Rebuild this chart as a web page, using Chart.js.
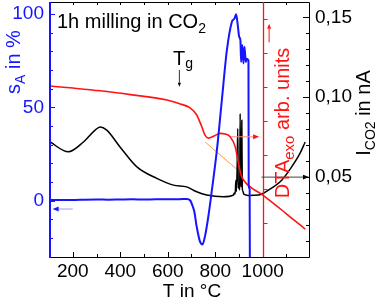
<!DOCTYPE html>
<html>
<head>
<meta charset="utf-8">
<script src="https://cdn.jsdelivr.net/npm/chart.js@4"></script>
<style>
  html, body { margin: 0; padding: 0; background: #fff; }
</style>
</head>
<body>
<canvas id="c" width="379" height="302"></canvas>
<script>
// sA (left axis, %)
const tempSA = [104, 150, 200, 250, 300, 350, 400, 450, 500, 550, 600, 650, 680, 694, 705, 712, 722, 736, 746, 757, 771, 786, 807, 828, 849, 870, 881, 888, 895, 901, 906, 909, 914, 919, 923, 929, 933, 940, 941, 945, 946]
const sA = [0.3, 0.4, 0.3, 0.5, 0.6, 0.5, 0.6, 0.7, 0.6, 0.7, 0.7, 0.8, 0.9, 0.2, -3, -6, -14, -22, -23.5, -19, -8.5, 5.7, 27, 54, 80.5, 95.7, 97.5, 99.8, 94, 87.7, 86, 74.3, 83.3, 73.5, 82.4, 74.3, 76, 75, 8, 6, -40]

// DTA (arbitrary units, hidden axis)
const tempDTA = [104, 200, 315, 450, 597, 650, 694, 722, 743, 757, 771, 795, 820, 842, 863, 884, 898, 909, 919, 1000, 1080, 1115, 1179]
const dta = [5.02, 4.96, 4.88, 4.76, 4.61, 4.5, 4.38, 4.17, 3.83, 3.58, 3.49, 3.55, 3.63, 3.61, 3.53, 3.24, 2.75, 2.41, 2.26, 1.82, 1.38, 1.18, 0.82]
const tempTangent = [757, 909]
const tangent = [3.38, 2.47]

// ion current CO2 (right axis, nA)
const tempCO2 = [104, 181, 245, 294, 315, 343, 399, 470, 554, 624, 680, 722, 764, 834, 877, 880, 884, 887, 889, 892, 895, 897, 900, 903, 905, 907, 909, 912, 914, 917, 920, 925, 939, 982, 1024, 1080, 1122, 1157, 1179]
const ico2 = [0.072, 0.0658, 0.072, 0.0794, 0.0814, 0.0794, 0.0689, 0.0564, 0.0492, 0.045, 0.0439, 0.0408, 0.0388, 0.0377, 0.0388, 0.04, 0.0395, 0.048, 0.041, 0.053, 0.0804, 0.043, 0.046, 0.042, 0.0898, 0.044, 0.045, 0.0856, 0.043, 0.041, 0.0395, 0.039, 0.0385, 0.0388, 0.0419, 0.0481, 0.0564, 0.0648, 0.072]

const xTicks = [200, 400, 600, 800, 1000]
const leftTicks = [0, 50, 100]
const rightTicks = [0.05, 0.1, 0.15]

const FONT = "'Liberation Sans', Arial, sans-serif"
const BLUE = "#1515ff"
const RED = "#ff1414"

const pts = (xs, ys) => xs.map((x, i) => ({ x, y: ys[i] }))

function richText(ctx, parts, x, y, angle, color, align) {
    ctx.save()
    ctx.translate(x, y)
    ctx.rotate(angle)
    ctx.fillStyle = color
    ctx.textBaseline = "alphabetic"
    let total = 0
    parts.forEach((p) => {
        ctx.font = p.size + "px " + FONT
        p.w = ctx.measureText(p.t).width
        total += p.w
    })
    let cx = align === "left" ? 0 : -total / 2
    parts.forEach((p) => {
        ctx.font = p.size + "px " + FONT
        ctx.fillText(p.t, cx, p.dy || 0)
        cx += p.w
    })
    ctx.restore()
}

function arrow(ctx, x1, y1, x2, y2, lineColor, headColor, head) {
    const a = Math.atan2(y2 - y1, x2 - x1)
    ctx.save()
    ctx.strokeStyle = lineColor
    ctx.lineWidth = 1
    ctx.beginPath()
    ctx.moveTo(x1, y1)
    ctx.lineTo(x2 - Math.cos(a) * head, y2 - Math.sin(a) * head)
    ctx.stroke()
    ctx.fillStyle = headColor
    ctx.beginPath()
    ctx.moveTo(x2, y2)
    ctx.lineTo(x2 - Math.cos(a) * head + Math.sin(a) * head * 0.4, y2 - Math.sin(a) * head - Math.cos(a) * head * 0.4)
    ctx.lineTo(x2 - Math.cos(a) * head - Math.sin(a) * head * 0.4, y2 - Math.sin(a) * head + Math.cos(a) * head * 0.4)
    ctx.closePath()
    ctx.fill()
    ctx.restore()
}

const framePlugin = {
    id: "frame",
    afterDatasetsDraw(chart) {
        const { ctx, chartArea: a, scales } = chart
        const { x, y, y1, yDTA } = scales
        ctx.save()
        // plot frame
        ctx.strokeStyle = "#000"
        ctx.lineWidth = 1
        ctx.beginPath()
        ctx.moveTo(a.left, a.top + 0.5)
        ctx.lineTo(a.right + 0.5, a.top + 0.5)
        ctx.lineTo(a.right + 0.5, a.bottom + 0.5)
        ctx.lineTo(a.left, a.bottom + 0.5)
        ctx.stroke()

        // x ticks bottom and top
        ctx.beginPath()
        for (let t = 200; t <= 1100; t += 100) {
            const px = Math.round(x.getPixelForValue(t)) + 0.5
            const len = t % 200 === 0 ? 5 : 3
            ctx.moveTo(px, a.bottom)
            ctx.lineTo(px, a.bottom - len)
            ctx.moveTo(px, a.top)
            ctx.lineTo(px, a.top + 3)
        }
        // right axis ticks
        for (let k = 1; k <= 15; k++) {
            const v = k / 100
            const py = Math.round(y1.getPixelForValue(v)) + 0.5
            const len = k % 5 === 0 ? 6 : 3
            ctx.moveTo(a.right, py)
            ctx.lineTo(a.right - len, py)
        }
        ctx.stroke()

        // left axis (blue)
        ctx.strokeStyle = BLUE
        ctx.lineWidth = 2
        ctx.beginPath()
        ctx.moveTo(a.left, a.top)
        ctx.lineTo(a.left, a.bottom + 1)
        ctx.stroke()
        ctx.lineWidth = 1
        ctx.beginPath()
        for (let v = -20; v <= 100; v += 10) {
            const py = Math.round(y.getPixelForValue(v)) + 0.5
            const len = v % 50 === 0 ? 5 : 3
            ctx.moveTo(a.left, py)
            ctx.lineTo(a.left + len, py)
        }
        ctx.stroke()

        // DTA axis (red) at T = 1000
        const rx = Math.round(x.getPixelForValue(1000)) + 0.5
        ctx.strokeStyle = RED
        ctx.lineWidth = 1.3
        ctx.beginPath()
        ctx.moveTo(rx, a.top)
        ctx.lineTo(rx, a.bottom)
        ctx.stroke()
        ctx.lineWidth = 1
        ctx.beginPath()
        for (let k = 1; k <= 7; k++) {
            const py = Math.round(yDTA.getPixelForValue(k)) + 0.5
            ctx.moveTo(rx, py)
            ctx.lineTo(rx + 4, py)
        }
        ctx.stroke()

        // axis-assignment arrows
        arrow(ctx, x.getPixelForValue(200), y.getPixelForValue(-4.5), x.getPixelForValue(115), y.getPixelForValue(-4.5), "#9a9aff", BLUE, 6)
        arrow(ctx, x.getPixelForValue(868), yDTA.getPixelForValue(3.53), x.getPixelForValue(985), yDTA.getPixelForValue(3.53), "#ff8a8a", RED, 6)
        arrow(ctx, x.getPixelForValue(1027), yDTA.getPixelForValue(6.3), x.getPixelForValue(1027), yDTA.getPixelForValue(6.85), RED, RED, 5)
        arrow(ctx, x.getPixelForValue(995), y1.getPixelForValue(0.05), x.getPixelForValue(1195), y1.getPixelForValue(0.05), "#444", "#000", 6)
        // Tg marker
        arrow(ctx, x.getPixelForValue(649), y.getPixelForValue(70), x.getPixelForValue(649), y.getPixelForValue(61), "#333", "#000", 4)
        ctx.restore()

        // texts
        richText(ctx, [{ t: "1h milling in CO", size: 20 }, { t: "2", size: 14, dy: 5 }], a.left + 7, 28, 0, "#000", "left")
        richText(ctx, [{ t: "T", size: 20 }, { t: "g", size: 14, dy: 3 }], 173, 65, 0, "#000", "left")
        richText(ctx, [{ t: "s", size: 20 }, { t: "A", size: 14, dy: 5 }, { t: " in %", size: 20 }], 20, 62, -Math.PI / 2, BLUE)
        richText(ctx, [{ t: "I", size: 20 }, { t: "CO2", size: 14, dy: 5 }, { t: " in nA", size: 20 }], 370, 113, -Math.PI / 2, "#000")
        richText(ctx, [{ t: "DTA", size: 20 }, { t: "exo", size: 15, dy: 5 }, { t: " arb. units", size: 20 }], 289, 123, -Math.PI / 2, RED)
        richText(ctx, [{ t: "T in °C", size: 19 }], 192, 297, 0, "#000")
    },
}

const tickFont = { family: FONT, size: 19 }
const noPad = (s) => {
    s.paddingTop = 0
    s.paddingBottom = 0
    s.paddingLeft = 0
    s.paddingRight = 0
}

new Chart(document.getElementById("c"), {
    type: "line",
    data: {
        datasets: [
            { data: pts(tempSA, sA), yAxisID: "y", borderColor: BLUE, borderWidth: 2 },
            { data: pts(tempDTA, dta), yAxisID: "yDTA", borderColor: RED, borderWidth: 1.6 },
            { data: pts(tempCO2, ico2), yAxisID: "y1", borderColor: "#000", borderWidth: 1.5 },
            { data: pts(tempTangent, tangent), yAxisID: "yDTA", borderColor: "#ff9a3c", borderWidth: 1 },
        ],
    },
    options: {
        responsive: false,
        animation: false,
        layout: { padding: { top: 2 } },
        elements: {
            point: { radius: 0 },
            line: { cubicInterpolationMode: "monotone", fill: false },
        },
        plugins: {
            legend: { display: false },
            tooltip: { enabled: false },
        },
        scales: {
            x: {
                type: "linear",
                min: 104,
                max: 1195,
                grid: { display: false, drawTicks: false },
                border: { display: false },
                afterBuildTicks: (s) => {
                    s.ticks = xTicks.map((v) => ({ value: v }))
                },
                afterFit: (s) => {
                    s.height = 45
                    noPad(s)
                },
                ticks: { font: tickFont, color: "#000", padding: 3, maxRotation: 0, autoSkip: false, callback: (v) => String(v) },
            },
            y: {
                position: "left",
                min: -30.2,
                max: 106.4,
                grid: { display: false, drawTicks: false },
                border: { display: false },
                afterBuildTicks: (s) => {
                    s.ticks = leftTicks.map((v) => ({ value: v }))
                },
                afterFit: (s) => {
                    s.width = 50
                    noPad(s)
                },
                ticks: { font: tickFont, color: BLUE, padding: 6, callback: (v) => String(v) },
            },
            y1: {
                position: "right",
                min: 0,
                max: 0.1596,
                grid: { display: false, drawTicks: false },
                border: { display: false },
                afterBuildTicks: (s) => {
                    s.ticks = rightTicks.map((v) => ({ value: v }))
                },
                afterFit: (s) => {
                    s.width = 70
                    noPad(s)
                },
                ticks: { font: tickFont, color: "#000", padding: 6, callback: (v) => v.toFixed(2).replace(".", ",") },
            },
            yDTA: {
                display: false,
                min: 0,
                max: 7.487,
            },
        },
    },
    plugins: [framePlugin],
})
</script>
</body>
</html>
